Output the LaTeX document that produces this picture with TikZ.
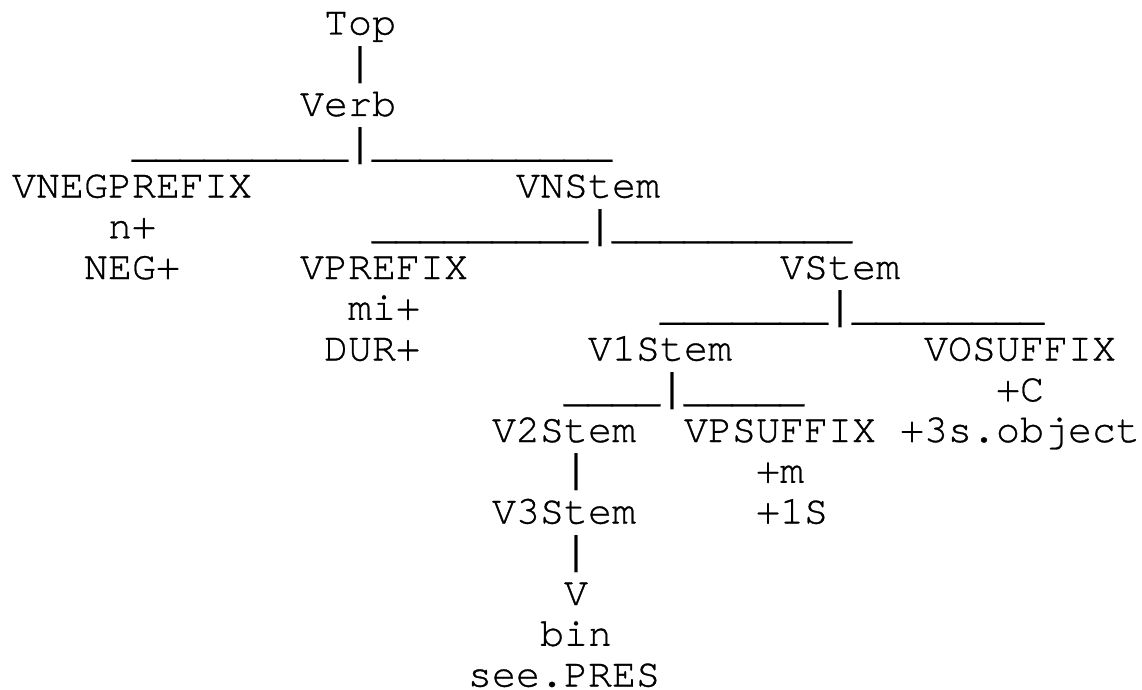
\documentclass[tikz,border=0pt]{standalone}
\usepackage{fontspec}
\setmonofont[FakeBold=0.8]{TeX Gyre Cursor}
\newfontfamily\pipefont{Liberation Mono}
\newcommand\tk[4]{\node[tok] (#1) at ({12+24*#2},{-34.5-40.75*(#3-1)}) {#4};}
\newcommand\pp{{\pipefont|}}
\begin{document}
\begin{tikzpicture}[x=1pt,y=1pt,
  tok/.style={anchor=base west, inner sep=0pt, outer sep=0pt, font=\ttfamily\fontsize{40}{40}\selectfont}]
\fill[white] (0,0) rectangle (1142,-690);
\useasboundingbox (0,0) rectangle (1142,-690);
\tk{top}{13}{1}{Top}
\tk{p1}{14}{2}{\pp}
\tk{verb}{12}{3}{Verb}
\tk{br1}{5}{4}{\detokenize{_________}\pp\detokenize{__________}}
\tk{vnegprefix}{0}{5}{VNEGPREFIX}
\tk{vnstem}{21}{5}{VNStem}
\tk{negn}{4}{6}{n+}
\tk{br2}{15}{6}{\detokenize{_________}\pp\detokenize{__________}}
\tk{negneg}{3}{7}{NEG+}
\tk{vprefix}{12}{7}{VPREFIX}
\tk{vstem}{32}{7}{VStem}
\tk{mi}{14}{8}{mi+}
\tk{br3}{27}{8}{\detokenize{_______}\pp\detokenize{________}}
\tk{dur}{13}{9}{DUR+}
\tk{vonestem}{24}{9}{V1Stem}
\tk{vosuffix}{38}{9}{VOSUFFIX}
\tk{br4}{23}{10}{\detokenize{____}\pp\detokenize{_____}}
\tk{cc}{41}{10}{+C}
\tk{vtwostem}{20}{11}{V2Stem}
\tk{vpsuffix}{28}{11}{VPSUFFIX}
\tk{obj}{37}{11}{+3s.object}
\tk{p2}{23}{12}{\pp}
\tk{mm}{31}{12}{+m}
\tk{vthreestem}{20}{13}{V3Stem}
\tk{onesg}{31}{13}{+1S}
\tk{p3}{23}{14}{\pp}
\tk{vv}{23}{15}{V}
\tk{bin}{22}{16}{bin}
\tk{seepres}{19}{17}{see.PRES}
\end{tikzpicture}
\end{document}
